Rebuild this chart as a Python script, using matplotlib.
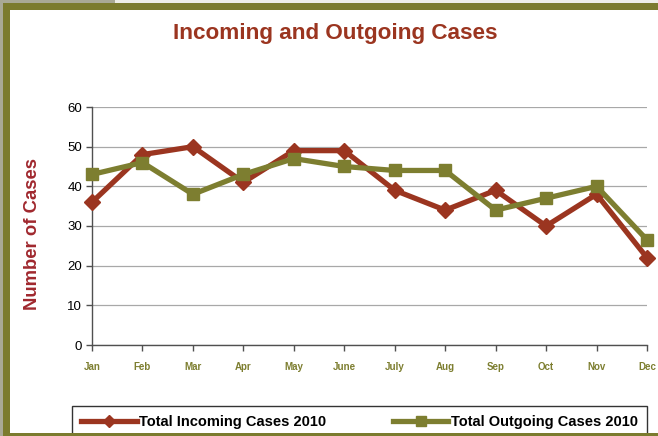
import matplotlib
matplotlib.use("Agg")
import matplotlib.pyplot as plt
from matplotlib.patches import Rectangle

months = ["Jan", "Feb", "Mar", "Apr", "May", "June", "July", "Aug", "Sep", "Oct", "Nov", "Dec"]
incoming = [36, 48, 50, 41, 49, 49, 39, 34, 39, 30, 38, 22]
outgoing = [43, 46, 38, 43, 47, 45, 44, 44, 34, 37, 40, 26.5]
yticks = [0, 10, 20, 30, 40, 50, 60]

RUST = "#9B3520"
OLIVE = "#7D7E30"
BORDER = "#7B7B2E"
GRAY = "#A9A996"

plt.rcParams["font.family"] = "Liberation Sans"

W, H = 658, 436
fig = plt.figure(figsize=(W / 100, H / 100), dpi=100)
fig.patch.set_facecolor("white")

def px_rect(x0, y0, x1, y1, color, z=0):
    fig.patches.append(Rectangle((x0 / W, 1 - y1 / H), (x1 - x0) / W, (y1 - y0) / H,
                                 transform=fig.transFigure, facecolor=color,
                                 edgecolor="none", zorder=z))

px_rect(0, 0, 3, H, GRAY)
px_rect(0, 0, 115, 3, GRAY)
px_rect(115, 0, W, 3, "#EEEEE8")
px_rect(3, 3, 10, H, BORDER)
px_rect(3, 3, W, 10, BORDER)
px_rect(3, 433, W, H, BORDER, z=10)

ax = fig.add_axes([92 / W, 1 - 345 / H, (647 - 92) / W, (345 - 107) / H])
x = list(range(len(months)))
ax.plot(x, incoming, color=RUST, lw=3.8, marker="D", ms=8, mfc=RUST, mec=RUST,
        clip_on=False, zorder=3, label="Total Incoming Cases 2010")
ax.plot(x, outgoing, color=OLIVE, lw=3.8, marker="s", ms=9, mfc=OLIVE, mec=OLIVE,
        clip_on=False, zorder=3, label="Total Outgoing Cases 2010")

ax.set_xlim(0, len(months) - 1)
ax.set_ylim(0, 60)
ax.set_yticks(yticks)
ax.set_yticklabels([str(v) for v in yticks], fontsize=9.5, color="black")
ax.set_xticks(x)
ax.set_xticklabels(months, fontsize=7, color=OLIVE, fontweight="bold")
ax.tick_params(axis="x", length=4, width=1, color="#505050", pad=8)
ax.tick_params(axis="y", length=4, width=1, color="#505050", pad=3)
ax.grid(axis="y", color="#A8A8A8", lw=0.9)
ax.set_axisbelow(True)
for s in ["top", "right"]:
    ax.spines[s].set_visible(False)
ax.spines["left"].set_color("#505050")
ax.spines["bottom"].set_color("#505050")
ax.spines["left"].set_linewidth(1)
ax.spines["bottom"].set_linewidth(1)

fig.text(335 / W, 1 - 33 / H, "Incoming and Outgoing Cases", ha="center", va="center",
         fontsize=16.2, fontweight="bold", color=RUST)
fig.text(33 / W, 1 - 234 / H, "Number of Cases", ha="center", va="center", rotation=90,
         fontsize=13.3, fontweight="bold", color="#A0282E")

leg = fig.legend(loc="upper left", bbox_to_anchor=(72 / W, 1 - 406 / H, (647 - 72) / W, 0),
                 mode="expand", ncol=2, frameon=True, fancybox=False, handlelength=3.8,
                 prop={"weight": "bold", "size": 10.5},
                 borderpad=0.65, columnspacing=0.6, handletextpad=0.15, borderaxespad=0)
leg.get_frame().set_edgecolor("black")
leg.get_frame().set_linewidth(1)
for h in leg.legend_handles:
    h.set_markersize(6.5)

fig.savefig("out.png", dpi=100)
